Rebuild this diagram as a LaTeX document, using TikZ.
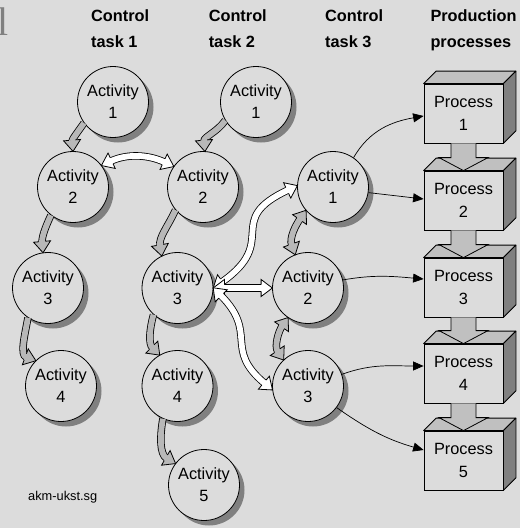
\documentclass[tikz,border=0pt]{standalone}
\usepackage{fontspec}
\setmainfont{Liberation Sans}
\newfontfamily\serifglyph{Liberation Serif}
\usetikzlibrary{shadows,arrows.meta,decorations.markings,calc}
\definecolor{bgc}{RGB}{220,220,220}
\definecolor{topc}{RGB}{192,192,192}
\definecolor{sidec}{RGB}{128,128,128}
\definecolor{shadc}{RGB}{128,128,128}
\definecolor{garrow}{RGB}{184,184,184}
\definecolor{glyphc}{RGB}{128,128,128}
\newcommand\fathead[1]{%
  \fill[#1] (0.4pt,0pt) -- (-10.9pt,8.5pt) -- (-10.9pt,-8.5pt) -- cycle;
  \draw[black, line width=0.8pt, line join=miter] (-10.9pt,3.3pt) -- (-10.9pt,8.5pt) -- (0.4pt,0pt) -- (-10.9pt,-8.5pt) -- (-10.9pt,-3.3pt);}
\newcommand\fatheadback[1]{%
  \fill[#1] (-0.3pt,0pt) -- (11pt,8.5pt) -- (11pt,-8.5pt) -- cycle;
  \draw[black, line width=0.8pt, line join=miter] (11pt,3.3pt) -- (11pt,8.5pt) -- (-0.3pt,0pt) -- (11pt,-8.5pt) -- (11pt,-3.3pt);}
\tikzset{
  act/.style={circle, draw=black, line width=0.8pt, fill=bgc, minimum size=71pt, inner sep=0pt, align=center,
    font=\fontsize{16.3}{22}\selectfont,
    drop shadow={shadow xshift=5pt, shadow yshift=-5pt, fill=shadc, opacity=1, draw=none}},
  proc/.style={rectangle, draw=black, line width=0.8pt, fill=bgc, minimum width=79pt, minimum height=59pt,
    inner sep=0pt, align=center, font=\fontsize{16.3}{22.3}\selectfont},
  hdr/.style={anchor=base west, inner sep=0pt, font=\fontsize{16.3}{20}\selectfont\bfseries},
  face/.style={draw=black, line width=0.8pt, line join=round},
  thinarrow/.style={draw=black, line width=0.7pt, -{Triangle[length=10.5pt,width=9pt]}},
  fatarrow/.style={
    preaction={draw=black, line width=7.4pt, shorten >=10pt},
    preaction={draw=#1, line width=5.8pt, shorten >=10pt},
    postaction={decorate, decoration={markings, mark=at position -0.1pt with {\fathead{#1}}}}},
  fatboth/.style={
    preaction={draw=black, line width=7.4pt, shorten >=10pt, shorten <=10pt},
    preaction={draw=#1, line width=5.8pt, shorten >=10pt, shorten <=10pt},
    postaction={decorate, decoration={markings, mark=at position 0 with {\fatheadback{#1}}, mark=at position -0.1pt with {\fathead{#1}}}}},
  procarrow/.style={fill=topc, draw=black, line width=0.8pt, line join=miter}
}
\begin{document}
\begin{tikzpicture}[x=1pt,y=1pt]
\useasboundingbox (0,0) rectangle (520,-528);
\fill[bgc] (0,0) rectangle (520,-528);

% stray glyph at the top-left corner
\node[anchor=base west, inner sep=0pt, font=\serifglyph\fontsize{40}{40}\selectfont, text=glyphc] (corner) at (-3,-35) {l};

% headers
\node[hdr] (h1a) at (91,-21.8) {Control};
\node[hdr] (h1b) at (91,-47.3) {task 1};
\node[hdr] (h2a) at (208.6,-21.8) {Control};
\node[hdr] (h2b) at (208.6,-47.3) {task 2};
\node[hdr] (h3a) at (325,-21.8) {Control};
\node[hdr] (h3b) at (325,-47.3) {task 3};
\node[hdr] (h4a) at (430.3,-21.8) {Production};
\node[hdr] (h4b) at (430.3,-47.3) {processes};

\node[anchor=base west, inner sep=0pt, font=\fontsize{12.8}{14}\selectfont] (src) at (28,-500) {akm-ukst.sg};

% activities
\node[act] (T1A1) at (113,-102) {Activity\\1};
\node[act] (T1A2) at (73,-187) {Activity\\2};
\node[act] (T1A3) at (48,-288) {Activity\\3};
\node[act] (T1A4) at (61,-386) {Activity\\4};
\node[act] (T2A1) at (256,-102) {Activity\\1};
\node[act] (T2A2) at (203,-187) {Activity\\2};
\node[act] (T2A3) at (177.5,-288) {Activity\\3};
\node[act] (T2A4) at (177.5,-386) {Activity\\4};
\node[act] (T2A5) at (204,-485) {Activity\\5};
\node[act] (T3A1) at (333,-187) {Activity\\1};
\node[act] (T3A2) at (308,-288) {Activity\\2};
\node[act] (T3A3) at (308,-386) {Activity\\3};

% processes
\foreach \n/\y in {1/-113.5, 2/-200.5, 3/-287.5, 4/-373.5, 5/-460.5} {
  \node[proc] (P\n) at (463.5,\y) {Process\\\n};
  \filldraw[face, fill=topc] (P\n.north west) -- ++(12.5,12.5) -- ($(P\n.north east)+(12.5,12.5)$) -- (P\n.north east) -- cycle;
  \filldraw[face, fill=sidec] (P\n.north east) -- ++(12.5,12.5) -- ($(P\n.south east)+(12.5,12.5)$) -- (P\n.south east) -- cycle;
}
\foreach \a/\b in {P1/P2, P2/P3, P3/P4, P4/P5} {
  \filldraw[procarrow] ($(\a.south)+(-12.5,0)$) -- ($(\b.north)+(-12.5,13)$) -- ($(\b.north)+(-24.5,13)$)
    -- (\b.north) -- ($(\b.north)+(24.5,13)$) -- ($(\b.north)+(12.5,13)$) -- ($(\a.south)+(12.5,0)$);
}

% gray sequence arrows
\path[fatarrow=garrow] (T1A1.216) to[out=235, in=95] (T1A2.90);
\path[fatarrow=garrow] (T2A1.211) to[out=235, in=95] (T2A2.87);
\path[fatarrow=garrow] (T1A2.232) to[out=245, in=95] (T1A3.98);
\path[fatarrow=garrow] (T2A2.220) to[out=245, in=100] (T2A3.116);
\path[fatarrow=garrow] (T1A3.236) to[out=260, in=160] (T1A4.135);
\path[fatarrow=garrow] (T2A3.228) to[out=255, in=135] (T2A4.120);
\path[fatarrow=garrow] (T2A4.246) to[out=260, in=150] (T2A5.143);

% gray two-way arrows in task 3
\path[fatboth=garrow] (T3A1.221) to[out=235, in=110] (T3A2.111);
\path[fatboth=garrow] (T3A2.236) to[out=235, in=125] (T3A3.133);

% white coordination arrows
\path[fatboth=white] (T1A2.37) to[out=25, in=155] (T2A2.145);
\path[fatboth=white] (T2A3.east) to[out=35, in=205, looseness=1.6] (T3A1.178);
\path[fatboth=white] (T2A3.east) -- (T3A2.west);
\path[fatboth=white] (T2A3.east) to[out=-45, in=140, looseness=1.4] (T3A3.186);

% thin arrows to the processes
\draw[thinarrow] (T3A1.55) to[out=60, in=190] ([yshift=-2.5pt]P1.west);
\draw[thinarrow] (T3A1.-9) -- ([yshift=1.5pt]P2.west);
\draw[thinarrow] (T3A2.13) to[out=10, in=175] ([yshift=8.5pt]P3.west);
\draw[thinarrow] (T3A3.19) to[out=20, in=180] ([yshift=7.5pt]P4.west);
\draw[thinarrow] (T3A3.-37) to[out=-35, in=164] ([yshift=10.5pt]P5.west);
\end{tikzpicture}
\end{document}
